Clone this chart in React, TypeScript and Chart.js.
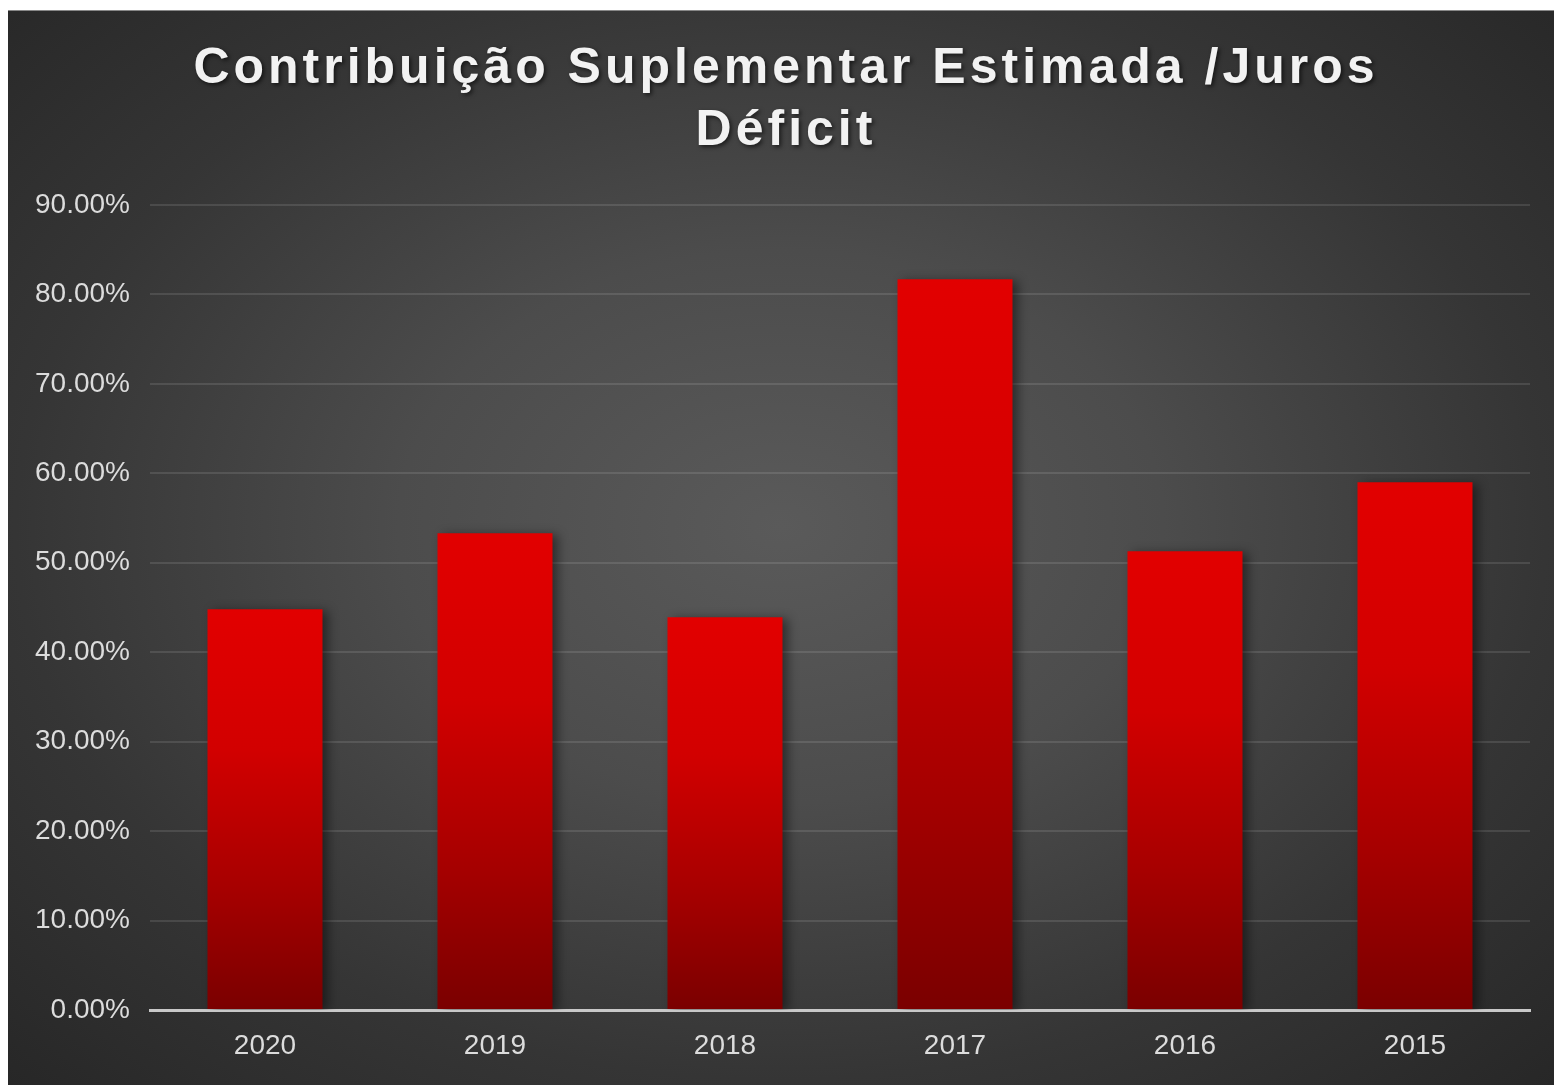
import React, { useEffect, useRef } from "react";
import { Chart, registerables } from "chart.js";

Chart.register(...registerables);

const TITLE_LINES = ["Contribuição Suplementar Estimada /Juros", "Déficit"];
const CATEGORIES = ["2020", "2019", "2018", "2017", "2016", "2015"];
const VALUES = [44.8, 53.3, 43.9, 81.7, 51.3, 59.0];
const Y_MIN = 0;
const Y_MAX = 90;
const Y_STEP = 10;

const W = 1546;
const H = 1075;

const titlePlugin = {
  id: "spacedTitle",
  afterDraw(chart: any) {
    const ctx = chart.ctx as CanvasRenderingContext2D;
    ctx.save();
    ctx.font = "bold 50px 'Liberation Sans', Arial, sans-serif";
    (ctx as any).letterSpacing = "4px";
    ctx.fillStyle = "#f2f2f2";
    ctx.textAlign = "center";
    ctx.textBaseline = "middle";
    ctx.shadowColor = "rgba(0,0,0,0.6)";
    ctx.shadowBlur = 4;
    ctx.shadowOffsetX = 2;
    ctx.shadowOffsetY = 2;
    const cx = 778;
    TITLE_LINES.forEach((line, i) => {
      ctx.fillText(line, cx, 58 + i * 62);
    });
    ctx.restore();
  },
};

const shadowPlugin = {
  id: "barShadow",
  beforeDatasetsDraw(chart: any) {
    const ctx = chart.ctx as CanvasRenderingContext2D;
    ctx.save();
    ctx.shadowColor = "rgba(0,0,0,0.45)";
    ctx.shadowBlur = 10;
    ctx.shadowOffsetX = 5;
    ctx.shadowOffsetY = 2;
  },
  afterDatasetsDraw(chart: any) {
    chart.ctx.restore();
  },
};

export default function App() {
  const ref = useRef<HTMLCanvasElement>(null);

  useEffect(() => {
    if (!ref.current) return;
    const chart = new Chart(ref.current, {
      type: "bar",
      data: {
        labels: CATEGORIES,
        datasets: [
          {
            data: VALUES,
            backgroundColor: (context: any) => {
              const c = context.chart;
              if (!c.chartArea || context.type !== "data") return "#d00000";
              const ys = c.scales.y;
              const top = ys.getPixelForValue(context.raw);
              const bottom = ys.getPixelForValue(0);
              const g = c.ctx.createLinearGradient(0, top, 0, bottom);
              g.addColorStop(0, "#e20000");
              g.addColorStop(0.35, "#d20000");
              g.addColorStop(0.7, "#a60000");
              g.addColorStop(1, "#7a0000");
              return g;
            },
            borderWidth: 0,
            barPercentage: 0.5,
            categoryPercentage: 1.0,
          },
        ],
      },
      options: {
        responsive: false,
        animation: false,
        maintainAspectRatio: false,
        layout: { padding: { top: 194, right: 24, left: 0, bottom: 0 } },
        plugins: {
          legend: { display: false },
          title: { display: false },
          tooltip: { enabled: false },
        },
        scales: {
          x: {
            grid: { display: false, drawTicks: false },
            border: { display: true, color: "#c8c8c8", width: 3 },
            ticks: {
              color: "#dcdcdc",
              padding: 19,
              font: { family: "'Liberation Sans', Arial, sans-serif", size: 28 },
            },
            afterFit: (s: any) => {
              s.height = 75;
            },
          },
          y: {
            min: Y_MIN,
            max: Y_MAX,
            grid: {
              color: "rgba(255,255,255,0.11)",
              lineWidth: 2,
              drawTicks: false,
            },
            border: { display: false },
            ticks: {
              stepSize: Y_STEP,
              color: "#dcdcdc",
              padding: 20,
              font: { family: "'Liberation Sans', Arial, sans-serif", size: 28 },
              callback: (v: any) => Number(v).toFixed(2) + "%",
            },
            afterFit: (s: any) => {
              s.width = 142;
            },
          },
        },
      },
      plugins: [shadowPlugin, titlePlugin],
    });
    return () => chart.destroy();
  }, []);

  return (
    <div
      style={{
        position: "fixed",
        left: 8,
        top: 10,
        width: W,
        height: H,
        background:
          "radial-gradient(ellipse at 50% 48%, #5a5a5a 0%, #4c4c4c 35%, #353535 70%, #272727 100%)",
        borderTop: "1px solid #888",
        boxSizing: "border-box",
      }}
    >
      <canvas ref={ref} width={W} height={H - 1} style={{ display: "block" }} />
    </div>
  );
}
